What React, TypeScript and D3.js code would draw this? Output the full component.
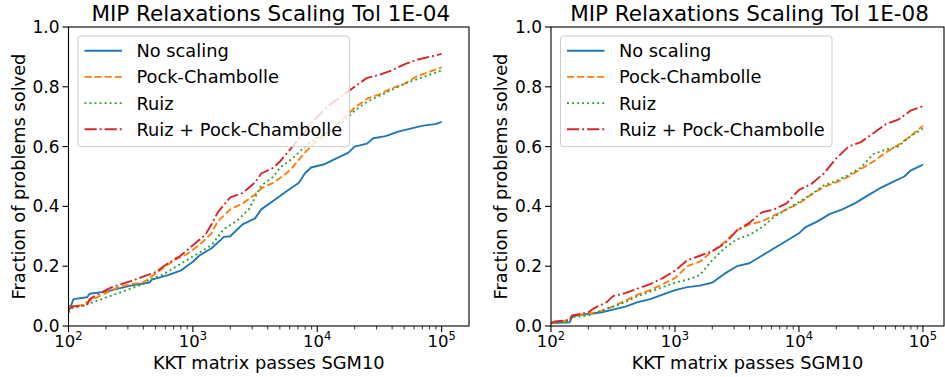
import * as d3 from 'd3';

type Pt = [number, number]; // [log10(passes), fraction solved]

const SERIES_NAMES = ['No scaling', 'Pock-Chambolle', 'Ruiz', 'Ruiz + Pock-Chambolle'];
const COLORS = ['#1f77b4', '#ff7f0e', '#2ca02c', '#d62728'];
const Y_TICKS = [0, 0.2, 0.4, 0.6, 0.8, 1.0];
const X_DECADES = [2, 3, 4, 5];

// Tol 1E-04
const A_NONE: Pt[] = [
  [2.0, 0.065], [2.02, 0.068], [2.04, 0.09], [2.15, 0.096], [2.17, 0.108], [2.3, 0.115], [2.4, 0.125],
  [2.5, 0.135], [2.6, 0.142], [2.65, 0.145], [2.67, 0.155], [2.8, 0.17], [2.9, 0.185], [3.0, 0.215],
  [3.05, 0.235], [3.15, 0.26], [3.25, 0.298], [3.3, 0.3], [3.4, 0.34], [3.5, 0.36], [3.55, 0.39],
  [3.65, 0.42], [3.75, 0.45], [3.85, 0.478], [3.9, 0.51], [3.95, 0.53], [4.05, 0.54], [4.15, 0.56],
  [4.25, 0.58], [4.3, 0.6], [4.4, 0.61], [4.45, 0.628], [4.55, 0.635], [4.65, 0.65], [4.75, 0.66],
  [4.85, 0.67], [4.95, 0.675], [5.0, 0.683],
];
const A_PC: Pt[] = [
  [2.0, 0.05], [2.02, 0.065], [2.1, 0.07], [2.2, 0.09], [2.3, 0.11], [2.4, 0.13], [2.5, 0.14],
  [2.6, 0.145], [2.65, 0.16], [2.75, 0.19], [2.85, 0.22], [2.95, 0.24], [3.05, 0.27], [3.15, 0.31],
  [3.2, 0.35], [3.3, 0.39], [3.4, 0.41], [3.5, 0.44], [3.55, 0.46], [3.65, 0.48], [3.75, 0.51],
  [3.8, 0.53], [3.9, 0.58], [4.0, 0.62], [4.1, 0.65], [4.2, 0.69], [4.3, 0.73], [4.4, 0.76],
  [4.5, 0.775], [4.6, 0.795], [4.7, 0.81], [4.8, 0.835], [4.9, 0.85], [5.0, 0.865],
];
const A_RUIZ: Pt[] = [
  [2.0, 0.045], [2.03, 0.06], [2.1, 0.065], [2.2, 0.08], [2.3, 0.095], [2.4, 0.11], [2.5, 0.125],
  [2.6, 0.14], [2.65, 0.155], [2.75, 0.17], [2.85, 0.195], [2.95, 0.22], [3.05, 0.245], [3.15, 0.27],
  [3.25, 0.325], [3.35, 0.35], [3.45, 0.39], [3.5, 0.43], [3.55, 0.47], [3.65, 0.5], [3.7, 0.53],
  [3.8, 0.56], [3.9, 0.6], [4.0, 0.63], [4.1, 0.65], [4.2, 0.68], [4.3, 0.72], [4.4, 0.75],
  [4.5, 0.77], [4.6, 0.79], [4.7, 0.81], [4.8, 0.825], [4.9, 0.84], [5.0, 0.855],
];
const A_BOTH: Pt[] = [
  [2.0, 0.055], [2.03, 0.065], [2.15, 0.07], [2.17, 0.09], [2.3, 0.12], [2.35, 0.13], [2.5, 0.15],
  [2.6, 0.165], [2.7, 0.18], [2.8, 0.21], [2.9, 0.235], [3.0, 0.27], [3.1, 0.305], [3.15, 0.34],
  [3.2, 0.38], [3.3, 0.43], [3.4, 0.445], [3.5, 0.48], [3.55, 0.51], [3.65, 0.53], [3.7, 0.55],
  [3.8, 0.6], [3.9, 0.65], [4.0, 0.7], [4.1, 0.74], [4.2, 0.77], [4.3, 0.8], [4.4, 0.83],
  [4.5, 0.84], [4.6, 0.855], [4.7, 0.875], [4.8, 0.89], [4.9, 0.9], [5.0, 0.91],
];

// Tol 1E-08
const B_NONE: Pt[] = [
  [2.0, 0.01], [2.15, 0.012], [2.17, 0.03], [2.2, 0.035], [2.3, 0.04], [2.4, 0.045], [2.5, 0.055],
  [2.6, 0.065], [2.7, 0.08], [2.8, 0.09], [2.9, 0.105], [3.0, 0.12], [3.1, 0.13], [3.2, 0.135],
  [3.3, 0.145], [3.4, 0.175], [3.5, 0.2], [3.6, 0.21], [3.7, 0.235], [3.8, 0.26], [3.9, 0.285],
  [4.0, 0.31], [4.05, 0.33], [4.15, 0.35], [4.25, 0.375], [4.35, 0.39], [4.45, 0.41], [4.55, 0.435],
  [4.65, 0.46], [4.75, 0.48], [4.85, 0.5], [4.9, 0.52], [5.0, 0.54],
];
const B_PC: Pt[] = [
  [2.0, 0.01], [2.15, 0.02], [2.17, 0.035], [2.3, 0.04], [2.4, 0.05], [2.5, 0.065], [2.6, 0.085],
  [2.7, 0.105], [2.8, 0.12], [2.9, 0.14], [3.0, 0.16], [3.1, 0.2], [3.2, 0.215], [3.3, 0.25],
  [3.4, 0.28], [3.5, 0.32], [3.6, 0.34], [3.7, 0.35], [3.8, 0.37], [3.9, 0.39], [4.0, 0.41],
  [4.1, 0.44], [4.2, 0.465], [4.3, 0.48], [4.4, 0.5], [4.5, 0.525], [4.6, 0.55], [4.7, 0.58],
  [4.8, 0.605], [4.9, 0.635], [5.0, 0.67],
];
const B_RUIZ: Pt[] = [
  [2.0, 0.01], [2.15, 0.015], [2.17, 0.03], [2.3, 0.035], [2.4, 0.05], [2.5, 0.065], [2.6, 0.08],
  [2.7, 0.1], [2.8, 0.115], [2.9, 0.13], [3.0, 0.145], [3.1, 0.155], [3.2, 0.17], [3.3, 0.22],
  [3.4, 0.26], [3.5, 0.29], [3.6, 0.305], [3.7, 0.33], [3.8, 0.365], [3.9, 0.39], [4.0, 0.415],
  [4.1, 0.44], [4.2, 0.47], [4.3, 0.485], [4.4, 0.505], [4.5, 0.53], [4.6, 0.575], [4.7, 0.59],
  [4.8, 0.6], [4.9, 0.635], [5.0, 0.66],
];
const B_BOTH: Pt[] = [
  [2.0, 0.01], [2.03, 0.015], [2.15, 0.02], [2.17, 0.035], [2.3, 0.045], [2.35, 0.06], [2.45, 0.08],
  [2.5, 0.1], [2.6, 0.11], [2.7, 0.125], [2.8, 0.14], [2.9, 0.16], [3.0, 0.185], [3.1, 0.22],
  [3.2, 0.235], [3.3, 0.25], [3.4, 0.275], [3.5, 0.32], [3.6, 0.345], [3.7, 0.38], [3.8, 0.39],
  [3.9, 0.41], [4.0, 0.455], [4.1, 0.475], [4.2, 0.51], [4.3, 0.56], [4.4, 0.6], [4.5, 0.615],
  [4.6, 0.645], [4.7, 0.675], [4.8, 0.69], [4.9, 0.72], [5.0, 0.735],
];

const LW = 1.9;
const DASHES = ['', `${3.7 * LW},${1.6 * LW}`, `${1 * LW},${1.65 * LW}`, `${6.4 * LW},${1.6 * LW},${1 * LW},${1.6 * LW}`];
const FONT = 'DejaVu Sans, sans-serif';

interface PanelProps {
  title: string;
  series: Pt[][];
  left: number;
  right: number;
  xMaxExp: number;
}

function Panel({ title, series, left, right, xMaxExp }: PanelProps) {
  const top = 27;
  const bottom = 326;
  const x = d3.scaleLog().domain([100, Math.pow(10, xMaxExp)]).range([left, right]);
  const y = d3.scaleLinear().domain([0, 1]).range([bottom, top]);
  const line = d3.line<Pt>().x(d => x(Math.pow(10, d[0]))).y(d => y(d[1]));

  const minor: number[] = [];
  X_DECADES.forEach(e => {
    for (let k = 2; k <= 9; k++) {
      const v = k * Math.pow(10, e);
      if (v < Math.pow(10, xMaxExp)) minor.push(v);
    }
  });

  const lgX = left + 9.5;
  const lgY = 36;
  const rowH = 26.2;

  return (
    <g fontFamily={FONT}>
      <defs>
        <clipPath id={`clip-${left}`}>
          <rect x={left} y={top} width={right - left} height={bottom - top} />
        </clipPath>
      </defs>
      <text x={(left + right) / 2 + 2} y={20.5} textAnchor="middle" fontSize={21.5} fill="#000">{title}</text>

      <g clipPath={`url(#clip-${left})`}>
        {series.map((s, i) => (
          <path key={i} d={line(s) ?? ''} fill="none" stroke={COLORS[i]} strokeWidth={LW}
            strokeDasharray={DASHES[i] || undefined} strokeLinejoin="round" />
        ))}
      </g>

      {/* y axis */}
      {Y_TICKS.map(t => (
        <g key={t}>
          <line x1={left - 6} x2={left} y1={y(t)} y2={y(t)} stroke="#000" strokeWidth={1.1} />
          <text x={left - 9} y={y(t)} textAnchor="end" dominantBaseline="central" fontSize={17}>{t.toFixed(1)}</text>
        </g>
      ))}
      {/* x axis */}
      {minor.map(v => (
        <line key={v} x1={x(v)} x2={x(v)} y1={bottom} y2={bottom + 3.5} stroke="#000" strokeWidth={0.8} />
      ))}
      {X_DECADES.map(e => (
        <g key={e}>
          <line x1={x(Math.pow(10, e))} x2={x(Math.pow(10, e))} y1={bottom} y2={bottom + 6} stroke="#000" strokeWidth={1.1} />
          <text x={x(Math.pow(10, e))} y={346.5} textAnchor="middle" fontSize={16.5}>
            10<tspan fontSize={11.5} dy={-6.5}>{e}</tspan>
          </text>
        </g>
      ))}
      <rect x={left} y={top} width={right - left} height={bottom - top} fill="none" stroke="#000" strokeWidth={1.1} />

      <text x={(left + right) / 2} y={369.3} textAnchor="middle" fontSize={17.8}>KKT matrix passes SGM10</text>
      <text transform={`translate(${left - 50.5},${(top + bottom) / 2}) rotate(-90)`} textAnchor="middle" dominantBaseline="central" fontSize={17.8}>
        Fraction of problems solved
      </text>

      {/* legend */}
      <rect x={lgX} y={lgY} width={271.5} height={110.7} rx={3} fill="#fff" fillOpacity={0.8} stroke="#ccc" strokeWidth={1} />
      {SERIES_NAMES.map((name, i) => {
        const cy = lgY + 14.7 + i * rowH;
        return (
          <g key={name}>
            <line x1={lgX + 6.5} x2={lgX + 44} y1={cy} y2={cy} stroke={COLORS[i]} strokeWidth={LW}
              strokeDasharray={DASHES[i] || undefined} />
            <text x={lgX + 58.5} y={cy} dominantBaseline="central" fontSize={17.8}>{name}</text>
          </g>
        );
      })}
    </g>
  );
}

export default function App() {
  return (
    <svg width={945} height={377} style={{ position: 'absolute', left: 0, top: 0, background: '#fff' }}>
      <Panel title="MIP Relaxations Scaling Tol 1E-04" series={[A_NONE, A_PC, A_RUIZ, A_BOTH]} left={68.5} right={469} xMaxExp={5.22} />
      <Panel title="MIP Relaxations Scaling Tol 1E-08" series={[B_NONE, B_PC, B_RUIZ, B_BOTH]} left={551} right={944} xMaxExp={5.17} />
    </svg>
  );
}
